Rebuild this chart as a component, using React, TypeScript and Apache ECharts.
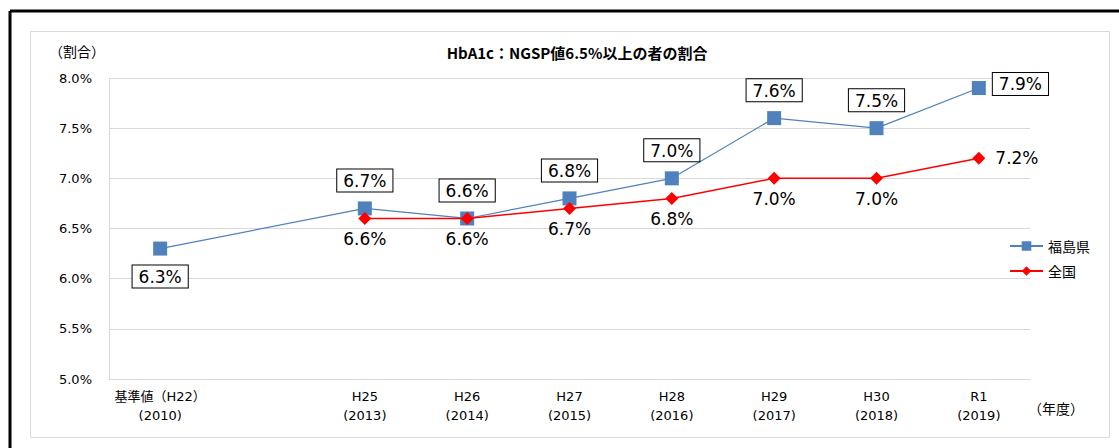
import React, { useEffect, useRef } from "react";
import * as echarts from "echarts";

const categories = ["基準値（H22）\n(2010)", "", "H25\n(2013)", "H26\n(2014)", "H27\n(2015)", "H28\n(2016)", "H29\n(2017)", "H30\n(2018)", "R1\n(2019)"];
const fukushima: (number | null)[] = [6.3, null, 6.7, 6.6, 6.8, 7.0, 7.6, 7.5, 7.9];
const national: (number | null)[] = [null, null, 6.6, 6.6, 6.7, 6.8, 7.0, 7.0, 7.2];
const fukushimaLabelPos = ["bottom", "top", "top", "top", "top", "top", "top", "top", "right"];
const nationalLabelPos = ["bottom", "bottom", "bottom", "bottom", "bottom", "bottom", "bottom", "bottom", "right"];
const yTicks = { min: 5, max: 8, interval: 0.5 };

const FONT = "'DejaVu Sans', 'Noto Sans CJK JP', sans-serif";
const CJK = "'Noto Sans CJK JP', sans-serif";

export default function App() {
  const ref = useRef<HTMLDivElement>(null);
  useEffect(() => {
    const chart = echarts.init(ref.current!, null, { renderer: "svg" });
    const fmt = (p: any) => Number(p.value).toFixed(1) + "%";
    chart.setOption({
      animation: false,
      backgroundColor: "#fff",
      textStyle: { fontFamily: FONT },
      title: {
        text: "HbA1c：NGSP値6.5%以上の者の割合",
        left: 572,
        top: 40,
        textAlign: "center",
        textStyle: { fontSize: 15, fontWeight: "bold", color: "#000", fontFamily: CJK },
      },
      graphic: [
        { type: "line", shape: { x1: 10, y1: 11, x2: 1119, y2: 11 }, style: { stroke: "#000", lineWidth: 3 } },
        { type: "line", shape: { x1: 10, y1: 11, x2: 10, y2: 448 }, style: { stroke: "#000", lineWidth: 3 } },
        { type: "rect", shape: { x: 30.5, y: 31.5, width: 1079, height: 406 }, style: { fill: "none", stroke: "#d9d9d9", lineWidth: 1 } },
        { type: "text", x: 49, y: 44, style: { text: "（割合）", font: `14px ${CJK}`, fill: "#000" } },
        { type: "text", x: 1028, y: 401, style: { text: "（年度）", font: `14px ${CJK}`, fill: "#000" } },
      ],
      legend: {
        orient: "vertical",
        left: 1004,
        top: 234,
        itemWidth: 33,
        itemHeight: 12,
        itemGap: 11,
        textStyle: { fontSize: 14, color: "#000", fontFamily: CJK },
        data: ["福島県", "全国"],
      },
      grid: { left: 109, right: 89, top: 78, bottom: 69, containLabel: false },
      xAxis: {
        type: "category",
        data: categories,
        boundaryGap: true,
        axisLine: { show: true, lineStyle: { color: "#d9d9d9" } },
        axisTick: { show: false },
        axisLabel: { interval: 0, fontSize: 13, color: "#000", lineHeight: 19, margin: 8, fontFamily: FONT },
      },
      yAxis: {
        type: "value",
        min: yTicks.min,
        max: yTicks.max,
        interval: yTicks.interval,
        axisLine: { show: true, lineStyle: { color: "#d9d9d9" } },
        axisTick: { show: false },
        splitLine: { lineStyle: { color: "#d9d9d9" } },
        axisLabel: { formatter: (v: number) => v.toFixed(1) + "%", fontSize: 13, color: "#000", margin: 17, fontFamily: FONT },
      },
      series: [
        {
          name: "福島県",
          type: "line",
          connectNulls: true,
          symbol: "rect",
          symbolSize: 14,
          itemStyle: { color: "#4f81bd" },
          lineStyle: { color: "#4f81bd", width: 1.2 },
          data: fukushima.map((v, i) => ({
            value: v,
            label: {
              show: v !== null,
              position: fukushimaLabelPos[i],
              distance: fukushimaLabelPos[i] === "right" ? 7 : 10,
              formatter: fmt,
              fontSize: 17,
              color: "#000",
              fontFamily: FONT,
              backgroundColor: "#fff",
              borderColor: "#000",
              borderWidth: 1,
              padding: [3, 6, 2, 6],
              offset: fukushimaLabelPos[i] === "right" ? [0, -4] : [0, 0],
            },
          })),
          z: 2,
        },
        {
          name: "全国",
          type: "line",
          connectNulls: true,
          symbol: "diamond",
          symbolSize: 13,
          itemStyle: { color: "#ff0000" },
          lineStyle: { color: "#ff0000", width: 1.5 },
          data: national.map((v, i) => ({
            value: v,
            label: {
              show: v !== null,
              position: nationalLabelPos[i],
              distance: nationalLabelPos[i] === "right" ? 10 : 6,
              formatter: fmt,
              fontSize: 17,
              color: "#000",
              fontFamily: FONT,
            },
          })),
          z: 3,
        },
      ],
    });
    return () => chart.dispose();
  }, []);
  return <div ref={ref} style={{ position: "fixed", left: 0, top: 0, width: 1119, height: 448 }} />;
}
